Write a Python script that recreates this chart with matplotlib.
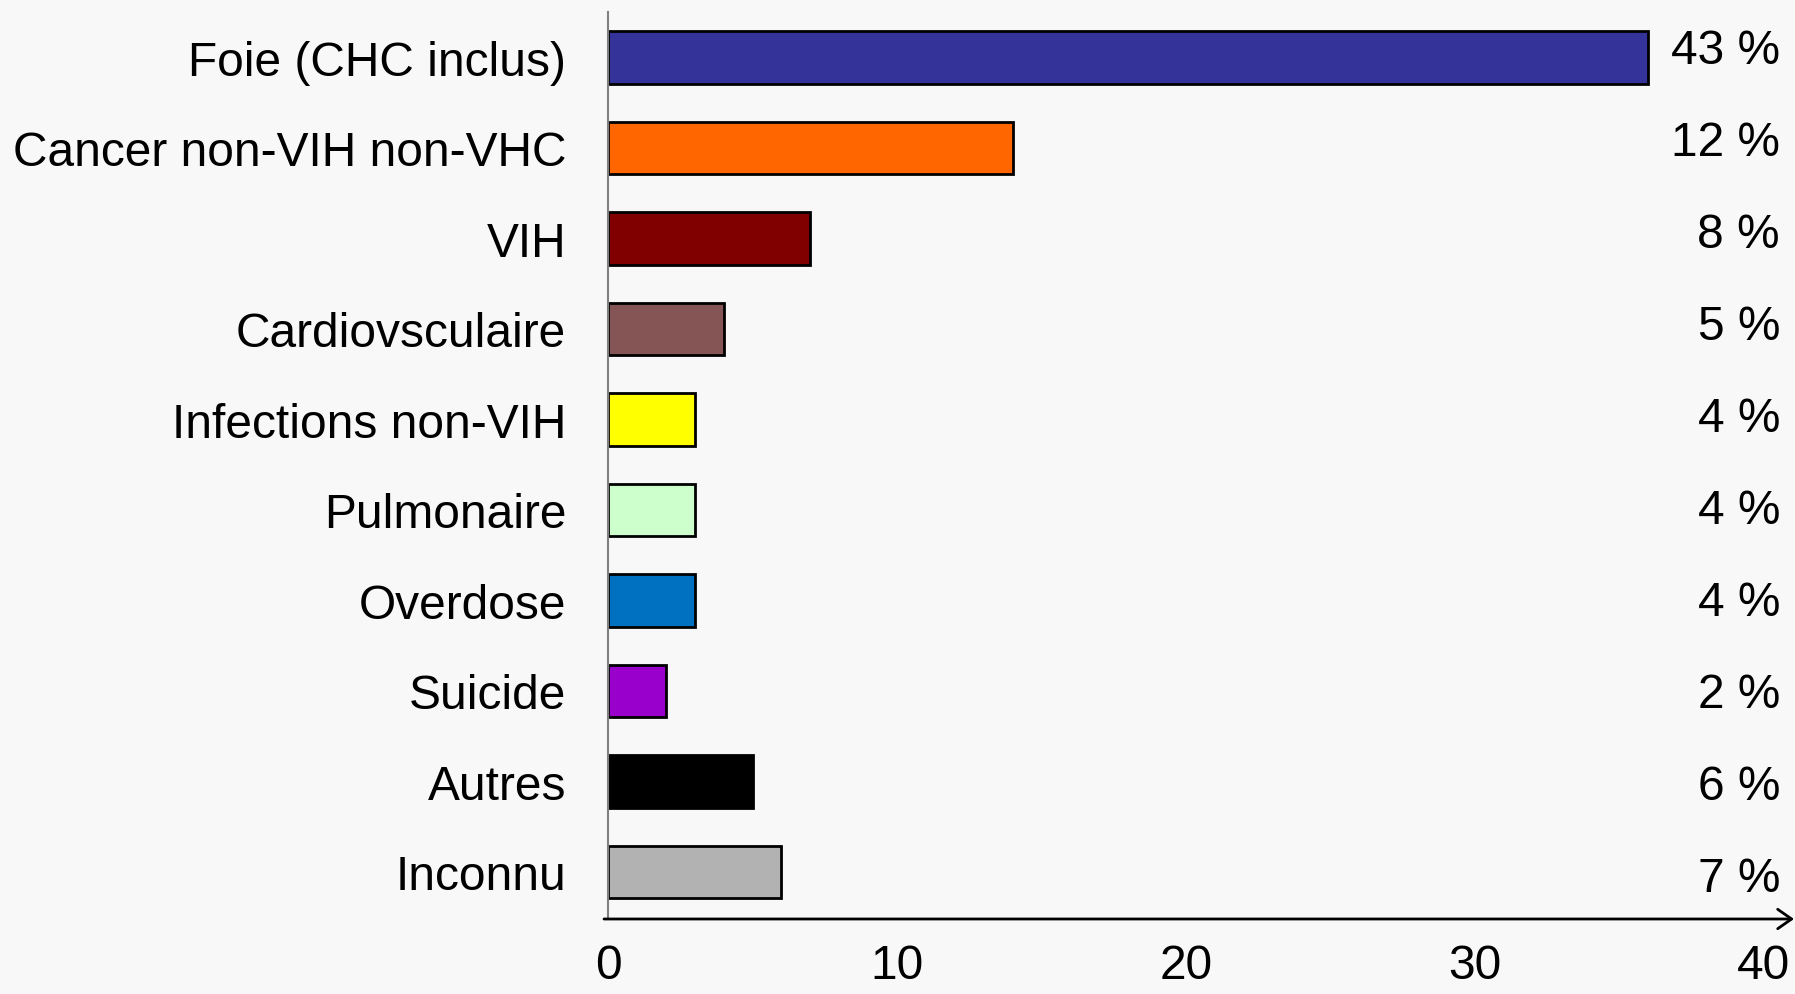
import matplotlib.pyplot as plt

# causes of death, top to bottom
causes = ["Foie (CHC inclus)", "Cancer non-VIH non-VHC", "VIH", "Cardiovsculaire",
          "Infections non-VIH", "Pulmonaire", "Overdose", "Suicide", "Autres", "Inconnu"]
counts = [36, 14, 7, 4, 3, 3, 3, 2, 5, 6]
pct_labels = ["43 %", "12 %", "8 %", "5 %", "4 %", "4 %", "4 %", "2 %", "6 %", "7 %"]
colors = ["#333399", "#FF6600", "#800000", "#855555", "#FFFF00",
          "#CCFFCC", "#0070C0", "#9900CC", "#000000", "#B2B2B2"]

bg = "#F8F8F8"
plt.rcParams['font.family'] = ['Liberation Sans', 'DejaVu Sans']

fig = plt.figure(figsize=(17.95, 9.95), dpi=100, facecolor=bg)
ax = fig.add_axes([608/1795, 1-920/995, (1764-608)/1795, (920-13)/995])
ax.set_facecolor(bg)

ypos = list(range(len(causes)))
ax.barh(ypos, counts, height=0.58, color=colors, edgecolor="black", linewidth=2)

ax.set_xlim(0, 40)
ax.set_ylim(9.52, -0.5)
ax.set_yticks(ypos)
ax.set_yticklabels(causes, fontsize=34.5)
ax.set_xticks([0, 10, 20, 30, 40])
ax.tick_params(axis="y", length=0, pad=30)
ax.tick_params(axis="x", length=0, pad=17, labelsize=34.5)

for s in ["top", "right", "bottom"]:
    ax.spines[s].set_visible(False)
ax.spines["left"].set_color("#808080")
ax.spines["left"].set_linewidth(1.5)

# percentage labels on the right
for i, lab in enumerate(pct_labels):
    ax.text(1780/1795, 1-(52 + i*92)/995, lab, transform=fig.transFigure,
            ha="right", va="center", fontsize=34.5)

# x axis with arrow
ya = 1-920/995
ax.annotate("", xy=(1794/1795, ya), xytext=(604/1795, ya), xycoords=fig.transFigure,
            textcoords=fig.transFigure,
            arrowprops=dict(arrowstyle="->,head_length=0.5,head_width=0.35",
                            color="black", lw=2, mutation_scale=20,
                            shrinkA=0, shrinkB=0))

fig.savefig("out.png", dpi=100, facecolor=bg)
